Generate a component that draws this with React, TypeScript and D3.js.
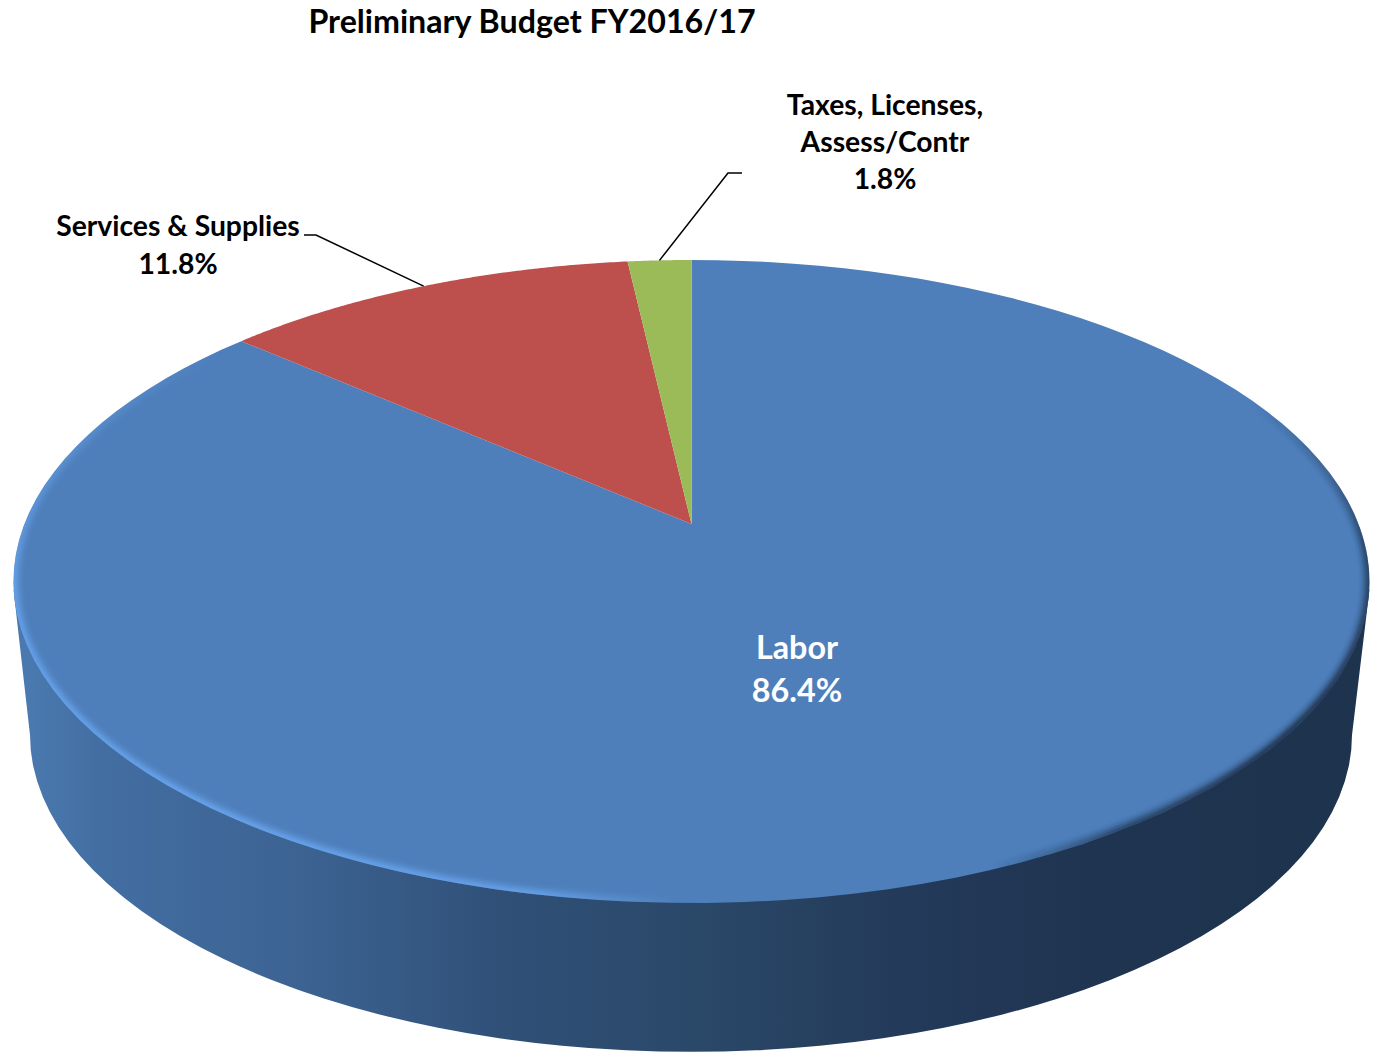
import React from "react";
import * as d3 from "d3";

// Budget shares, in percent
const categories = ["Labor", "Services & Supplies", "Taxes, Licenses, Assess/Contr"];
const shares = [86.4, 11.8, 1.8];
const sliceColors = ["#4e7fbb", "#bd504d", "#9bbb59"];
const chartTitle = "Preliminary Budget FY2016/17";

const WIDTH = 1377;
const HEIGHT = 1053;
const FONT = "Lato, Carlito, Calibri, sans-serif";

// Perspective of the tilted disc: top and bottom of the rim and the projected hub
const HUB_X = 691.5;
const HUB_Y = 524;
const RIM_TOP = 260;
const RIM_BOTTOM = 903;
const RIM_RX = 678;

const k = (2 * HUB_Y - RIM_TOP - RIM_BOTTOM) / (RIM_BOTTOM - RIM_TOP);
const ay = RIM_BOTTOM * (1 + k) - HUB_Y;
const ax = RIM_RX * Math.sqrt(1 - k * k);

// Project a point of the unit disc, angle clockwise from twelve o'clock
function project(angle: number, radius = 1): [number, number] {
  const u = radius * Math.sin(angle);
  const v = -radius * Math.cos(angle);
  const w = 1 + k * v;
  return [HUB_X + (ax * u) / w, (HUB_Y + ay * v) / w];
}

const pieLayout = d3.pie<number>().sort(null);

const line = d3.line();

function slicePath(a0: number, a1: number): string {
  const steps = d3.range(0, 121).map((i) => a0 + ((a1 - a0) * i) / 120);
  return line([[HUB_X, HUB_Y], ...steps.map((a) => project(a))])! + "Z";
}

// The base rim sits lower and a little narrower than the top rim
const BASE_CX = 691;
const BASE_CY = 735;
const BASE_RX = 661;
const BASE_RY = 317;
const RIM_CY = (RIM_TOP + RIM_BOTTOM) / 2;
const RIM_RY = (RIM_BOTTOM - RIM_TOP) / 2;

const wallStops: [number, string][] = [
  [30, "#4a79af"],
  [100, "#436ea2"],
  [300, "#3c6392"],
  [500, "#305078"],
  [700, "#2a4868"],
  [900, "#243a5a"],
  [1100, "#1e3450"],
  [1352, "#1e334d"],
];

export default function App() {
  const arcs = pieLayout(shares);
  const wallPath =
    `M${HUB_X - RIM_RX},${RIM_CY + 8} L${BASE_CX - BASE_RX},${BASE_CY} ` +
    `A${BASE_RX},${BASE_RY} 0 0 0 ${BASE_CX + BASE_RX},${BASE_CY} ` +
    `L${HUB_X + RIM_RX},${RIM_CY + 8} Z`;
  const servicesMid = project((arcs[1].startAngle + arcs[1].endAngle) / 2);
  const taxesMid = project((arcs[2].startAngle + arcs[2].endAngle) / 2);

  return (
    <svg
      width={WIDTH}
      height={HEIGHT}
      style={{ position: "absolute", left: 0, top: 0, display: "block", background: "#fff" }}
      fontFamily={FONT}
      fontWeight={700}
    >
      <defs>
        <linearGradient id="wall" gradientUnits="userSpaceOnUse" x1={30} x2={1352} y1={0} y2={0}>
          {wallStops.map(([x, c]) => (
            <stop key={x} offset={(x - 30) / (1352 - 30)} stopColor={c} />
          ))}
        </linearGradient>
        <radialGradient id="rimLight" gradientUnits="userSpaceOnUse" cx={240} cy={800} r={450}>
          <stop offset={0} stopColor="#69a6f0" stopOpacity={1} />
          <stop offset={0.7} stopColor="#69a6f0" stopOpacity={0.9} />
          <stop offset={1} stopColor="#69a6f0" stopOpacity={0} />
        </radialGradient>
        <radialGradient id="rimShade" gradientUnits="userSpaceOnUse" cx={1290} cy={730} r={330}>
          <stop offset={0} stopColor="#16263c" stopOpacity={0.95} />
          <stop offset={0.6} stopColor="#16263c" stopOpacity={0.7} />
          <stop offset={1} stopColor="#16263c" stopOpacity={0} />
        </radialGradient>
        <clipPath id="topClip">
          <ellipse cx={HUB_X} cy={RIM_CY} rx={RIM_RX} ry={RIM_RY} />
        </clipPath>
        <filter id="soft" x="-5%" y="-5%" width="110%" height="110%">
          <feGaussianBlur stdDeviation={3} />
        </filter>
      </defs>

      <text x={532} y={33} textAnchor="middle" fontSize={32.2} fill="#000">
        {chartTitle}
      </text>

      <path d={wallPath} fill="url(#wall)" />

      <g>
        {arcs.map((a, i) => (
          <path key={categories[i]} d={slicePath(a.startAngle, a.endAngle)} fill={sliceColors[i]} />
        ))}
      </g>

      {/* Soft bevel along the rim of the top face */}
      <g clipPath="url(#topClip)">
        <ellipse
          cx={HUB_X}
          cy={RIM_CY}
          rx={RIM_RX}
          ry={RIM_RY}
          fill="none"
          stroke="url(#rimLight)"
          strokeWidth={9}
          filter="url(#soft)"
        />
        <ellipse
          cx={HUB_X}
          cy={RIM_CY}
          rx={RIM_RX}
          ry={RIM_RY}
          fill="none"
          stroke="url(#rimShade)"
          strokeWidth={9}
          filter="url(#soft)"
        />
      </g>

      {/* Leader lines run from each label to the middle of its slice */}
      <g fill="none" stroke="#000" strokeWidth={1.5}>
        <path d={line([[304, 235], [316, 235], servicesMid])!} />
        <path d={line([[742, 173], [728, 173], taxesMid])!} />
      </g>

      <g textAnchor="middle" fontSize={28.3} fill="#000">
        <text x={885} y={115}>Taxes, Licenses,</text>
        <text x={885} y={152}>Assess/Contr</text>
        <text x={885} y={189}>{shares[2].toFixed(1)}%</text>
        <text x={178} y={236}>{categories[1]}</text>
        <text x={178} y={274}>{shares[1].toFixed(1)}%</text>
      </g>
      <g textAnchor="middle" fontSize={32.3} fill="#fff">
        <text x={797} y={659}>{categories[0]}</text>
        <text x={797} y={702}>{shares[0].toFixed(1)}%</text>
      </g>
    </svg>
  );
}
